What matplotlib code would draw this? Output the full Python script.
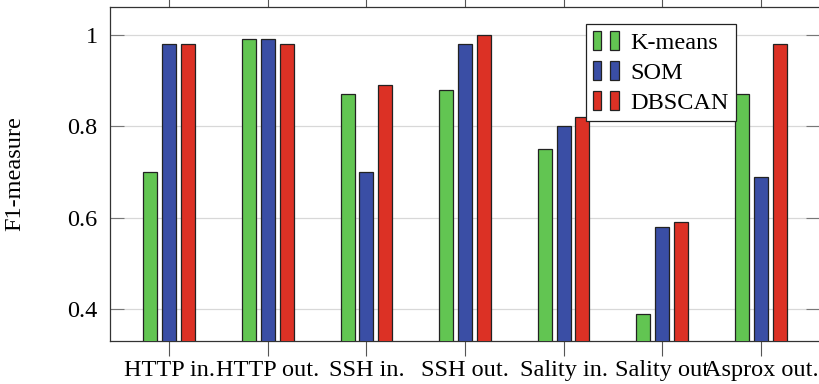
import numpy as np
import matplotlib.pyplot as plt
from matplotlib.patches import Rectangle
from matplotlib.legend_handler import HandlerTuple

plt.rcParams['font.family'] = ['Liberation Serif', 'DejaVu Serif']

categories = ['HTTP in.', 'HTTP out.', 'SSH in.', 'SSH out.', 'Sality in.', 'Sality out', 'Asprox out.']
kmeans = [0.70, 0.99, 0.87, 0.88, 0.75, 0.39, 0.87]
som = [0.98, 0.99, 0.70, 0.98, 0.80, 0.58, 0.69]
dbscan = [0.98, 0.98, 0.89, 1.00, 0.82, 0.59, 0.98]
yticks = [0.4, 0.6, 0.8, 1.0]
ylabels = ['0.4', '0.6', '0.8', '1']

series = [('K-means', kmeans, '#62c552'), ('SOM', som, '#3a4ea5'), ('DBSCAN', dbscan, '#dc3125')]

fig = plt.figure(figsize=(8.19, 3.84), dpi=100)
ax = fig.add_axes([110/819, 1-341/384, 710/819, 334/384])

x = np.arange(len(categories))
w = 0.142
step = 0.19
for i, (name, vals, col) in enumerate(series):
    ax.bar(x + (i-1)*step, vals, width=w, color=col, edgecolor='#222222', linewidth=0.9, zorder=3)

fs = 17.5
ax.set_xlim(-0.6, 6.6)
ax.set_ylim(0.33, 1.061)
ax.set_xticks(x)
ax.set_xticklabels(categories, fontsize=fs)
ax.set_yticks(yticks)
ax.set_yticklabels(ylabels, fontsize=fs)
ax.tick_params(axis='x', direction='out', length=11, top=True, width=0.8, color='#555555', pad=3)
ax.tick_params(axis='y', direction='in', length=10, right=True, width=0.8, color='#777777', pad=9)
ax.grid(axis='y', color='#d8d8d8', linewidth=0.9, zorder=0)
for s in ax.spines.values():
    s.set_linewidth(0.9)
    s.set_color('#333333')
ax.set_ylabel('F1-measure', fontsize=fs, labelpad=30)

handles = []
for name, vals, col in series:
    a = Rectangle((0, 0), 1, 1, facecolor=col, edgecolor='#222222', linewidth=0.9)
    b = Rectangle((0, 0), 1, 1, facecolor=col, edgecolor='#222222', linewidth=0.9)
    handles.append((a, b))
leg = ax.legend(handles, [s[0] for s in series], handler_map={tuple: HandlerTuple(ndivide=None, pad=0.35)},
                loc='upper left', bbox_to_anchor=(0.67, 0.95), fontsize=fs, fancybox=False,
                framealpha=1, edgecolor='#222222', handlelength=1.05, handleheight=0.85,
                handletextpad=0.5, labelspacing=0.28, borderpad=0.3, borderaxespad=0)
leg.get_frame().set_linewidth(0.9)
leg.set_zorder(5)

fig.savefig('out.png', dpi=100)
